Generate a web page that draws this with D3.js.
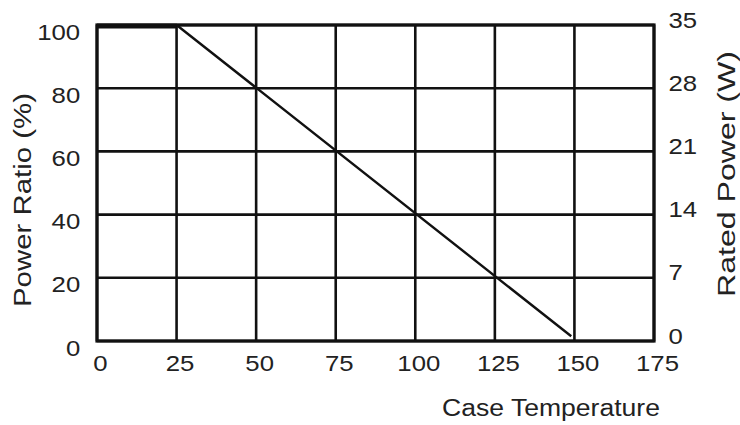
<!DOCTYPE html>
<html>
<head>
<meta charset="utf-8">
<script src="https://cdn.jsdelivr.net/npm/d3@7"></script>
<style>
  body { margin: 0; background: #fff; }
  svg text { font-family: "Liberation Sans", Arial, sans-serif; fill: #222; }
</style>
</head>
<body>
<svg></svg>
<script>
// derating curve
var temps = [0, 25, 149];
var ratios = [100, 100, 1.5];
var xTicks = [0, 25, 50, 75, 100, 125, 150, 175];
var yTicks = [0, 20, 40, 60, 80, 100];
var wTicks = [0, 7, 14, 21, 28, 35];

var svgWidth = 740, svgHeight = 425;
var plotLeft = 97, plotRight = 654, plotTop = 25, plotBottom = 341;

var svg = d3.select("svg").attr("width", svgWidth).attr("height", svgHeight);

var x = d3.scaleLinear().domain([0, 175]).range([plotLeft, plotRight]);
var y = d3.scaleLinear().domain([0, 100]).range([plotBottom, plotTop]);
var yW = d3.scaleLinear().domain([0, 35]).range([plotBottom, plotTop]);

// grid
svg.selectAll("line.vg").data(xTicks).enter().append("line")
  .attr("x1", function (d) { return x(d); }).attr("x2", function (d) { return x(d); })
  .attr("y1", plotTop).attr("y2", plotBottom)
  .attr("stroke", "#111").attr("stroke-width", 2.6);
svg.selectAll("line.hg").data(yTicks).enter().append("line")
  .attr("x1", plotLeft).attr("x2", plotRight)
  .attr("y1", function (d) { return y(d); }).attr("y2", function (d) { return y(d); })
  .attr("stroke", "#111").attr("stroke-width", 2.6);
svg.append("rect").attr("x", plotLeft).attr("y", plotTop)
  .attr("width", plotRight - plotLeft).attr("height", plotBottom - plotTop)
  .attr("fill", "none").attr("stroke", "#111").attr("stroke-width", 3.2);

// curve
var line = d3.line().x(function (d) { return x(d[0]); }).y(function (d) { return y(d[1]); });
svg.append("path").datum(d3.zip(temps, ratios))
  .attr("d", line).attr("fill", "none").attr("stroke", "#111").attr("stroke-width", 2.4);
// thick top segment sits just under the frame
svg.append("line").attr("x1", x(temps[0])).attr("x2", x(temps[1]))
  .attr("y1", y(ratios[0]) + 2).attr("y2", y(ratios[1]) + 2)
  .attr("stroke", "#111").attr("stroke-width", 3);

// axes (labels only)
var fs = 23;
function styleAxis(g) {
  g.select(".domain").remove();
  g.selectAll(".tick line").remove();
  g.selectAll("text").attr("font-size", fs).attr("fill", "#222");
}
svg.append("g").attr("transform", "translate(0," + plotBottom + ")")
  .call(d3.axisBottom(x).tickValues(xTicks).tickSize(0).tickPadding(0))
  .call(styleAxis)
  .selectAll("text").attr("dy", null).attr("y", 30)
  .attr("transform", "translate(3,0) scale(1.12,1)");
svg.append("g").attr("transform", "translate(" + plotLeft + ",0)")
  .call(d3.axisLeft(y).tickValues(yTicks).tickSize(0).tickPadding(0))
  .call(styleAxis)
  .selectAll("text").attr("dy", null).attr("x", -15).attr("y", 14)
  .attr("transform", "scale(1.12,1)");
svg.append("g").attr("transform", "translate(" + plotRight + ",0)")
  .call(d3.axisRight(yW).tickValues(wTicks).tickSize(0).tickPadding(0))
  .call(styleAxis)
  .selectAll("text").attr("dy", null).attr("x", 13).attr("y", 2)
  .attr("transform", "scale(1.12,1)");

// titles
svg.append("text").attr("x", 442).attr("y", 416)
  .attr("font-size", fs).attr("textLength", 218).attr("lengthAdjust", "spacingAndGlyphs")
  .text("Case Temperature");
svg.append("text").attr("transform", "translate(31,200) rotate(-90)")
  .attr("text-anchor", "middle").attr("font-size", fs)
  .attr("textLength", 214).attr("lengthAdjust", "spacingAndGlyphs")
  .text("Power Ratio (%)");
svg.append("text").attr("transform", "translate(735,174) rotate(-90)")
  .attr("text-anchor", "middle").attr("font-size", fs)
  .attr("textLength", 246).attr("lengthAdjust", "spacingAndGlyphs")
  .text("Rated Power (W)");
</script>
</body>
</html>
